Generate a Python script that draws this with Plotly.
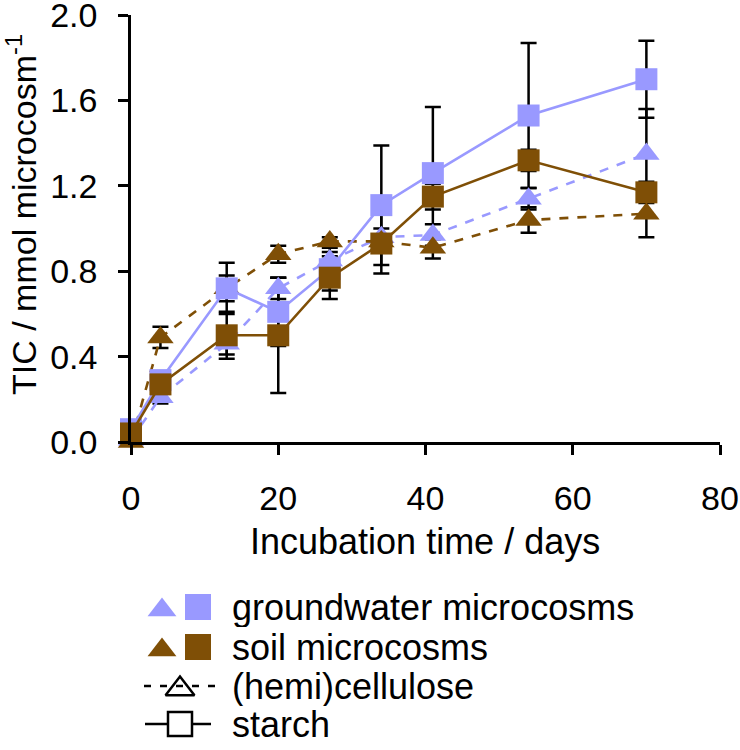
import plotly.graph_objects as go

# ---- data ----
days = [0, 4, 13, 20, 27, 34, 41, 54, 70]

gw_cellulose = [0.01, 0.21, 0.46, 0.72, 0.85, 0.96, 0.97, 1.14, 1.35]
gw_cellulose_err = [0.01, 0.03, 0.05, 0.05, 0.04, 0.04, 0.05, 0.05, 0.21]

soil_cellulose = [0.00, 0.49, 0.72, 0.88, 0.94, 0.94, 0.91, 1.04, 1.07]
soil_cellulose_err = [0.01, 0.05, 0.06, 0.04, 0.02, 0.03, 0.05, 0.06, 0.11]

gw_starch = [0.06, 0.29, 0.72, 0.61, 0.81, 1.11, 1.26, 1.53, 1.70]
gw_starch_err = [0.01, 0.03, 0.12, 0.16, 0.10, 0.28, 0.31, 0.34, 0.18]

soil_starch = [0.04, 0.27, 0.50, 0.50, 0.77, 0.93, 1.15, 1.32, 1.17]
soil_starch_err = [0.01, 0.04, 0.11, 0.27, 0.10, 0.14, 0.06, 0.05, 0.05]

x_ticks = [0, 20, 40, 60, 80]
y_ticks = [0.0, 0.4, 0.8, 1.2, 1.6, 2.0]

legend_labels = ["groundwater microcosms", "soil microcosms", "(hemi)cellulose", "starch"]

# ---- style ----
LAV = "#9999FF"
BRN = "#7F4F06"
FONT = "Liberation Sans, Arial, sans-serif"
W, H = 740, 750

series = [
    (gw_cellulose, gw_cellulose_err, LAV, "dash", "triangle-up", 23),
    (soil_cellulose, soil_cellulose_err, BRN, "dash", "triangle-up", 23),
    (gw_starch, gw_starch_err, LAV, "solid", "square", 22),
    (soil_starch, soil_starch_err, BRN, "solid", "square", 22),
]

fig = go.Figure()

# error bars first (below all markers)
for vals, errs, col, dash, sym, sz in series:
    fig.add_trace(go.Scatter(
        x=days, y=vals, mode="markers",
        marker=dict(size=1, color="rgba(0,0,0,0)"),
        error_y=dict(type="data", array=errs, visible=True, color="black",
                     thickness=2.5, width=8),
        showlegend=False, hoverinfo="skip", cliponaxis=False,
    ))

for vals, errs, col, dash, sym, sz in series:
    fig.add_trace(go.Scatter(
        x=days, y=vals, mode="lines+markers",
        line=dict(color=col, width=2.6, dash=dash),
        marker=dict(symbol=sym, size=sz, color=col, line=dict(width=0)),
        showlegend=False, cliponaxis=False,
    ))

# ---- custom legend on a pixel-mapped axis below the chart ----
LEG_TOP = 560
rows_y = [607, 647, 686, 724]
leg_axes = dict(xaxis="x2", yaxis="y2")
for ry, col in [(rows_y[0], LAV), (rows_y[1], BRN)]:
    fig.add_trace(go.Scatter(
        x=[162], y=[ry + 3], mode="markers", **leg_axes,
        marker=dict(symbol="triangle-up", size=25, color=col, line=dict(width=0)),
        showlegend=False, hoverinfo="skip", cliponaxis=False))
    fig.add_trace(go.Scatter(
        x=[198], y=[ry], mode="markers", **leg_axes,
        marker=dict(symbol="square", size=26, color=col, line=dict(width=0)),
        showlegend=False, hoverinfo="skip", cliponaxis=False))
fig.add_trace(go.Scatter(
    x=[144, 216], y=[rows_y[2], rows_y[2]], mode="lines", **leg_axes,
    line=dict(color="black", width=2.5, dash="7px,9px"),
    showlegend=False, hoverinfo="skip", cliponaxis=False))
fig.add_trace(go.Scatter(
    x=[180], y=[rows_y[2] + 3], mode="markers", **leg_axes,
    marker=dict(symbol="triangle-up-open", size=25, color="black", line=dict(width=2.5)),
    showlegend=False, hoverinfo="skip", cliponaxis=False))
fig.add_trace(go.Scatter(
    x=[145, 211], y=[rows_y[3], rows_y[3]], mode="lines", **leg_axes,
    line=dict(color="black", width=2.5),
    showlegend=False, hoverinfo="skip", cliponaxis=False))
fig.add_trace(go.Scatter(
    x=[180], y=[rows_y[3]], mode="markers", **leg_axes,
    marker=dict(symbol="square", size=24, color="white", line=dict(width=2.5, color="black")),
    showlegend=False, hoverinfo="skip", cliponaxis=False))

annotations = []
for ry, lab in zip(rows_y, legend_labels):
    annotations.append(dict(
        text=lab, x=231 / W, y=1 - ry / H, xref="paper", yref="paper",
        xanchor="left", yanchor="middle", showarrow=False, height=39, borderpad=0,
        font=dict(family=FONT, size=36, color="black")))
annotations.append(dict(
    text="Incubation time / days", x=(131 + 720) / 2 / W, y=1 - 541 / H,
    xref="paper", yref="paper", xanchor="center", yanchor="middle",
    showarrow=False, font=dict(family=FONT, size=36, color="black")))
annotations.append(dict(
    text="TIC / mmol microcosm<sup>-1</sup>", x=22 / W, y=1 - 215 / H,
    xref="paper", yref="paper", xanchor="center", yanchor="middle", textangle=-90,
    showarrow=False, font=dict(family=FONT, size=34, color="black")))

axis_common = dict(showgrid=False, zeroline=False, showline=True, linecolor="black",
                   linewidth=2.5, ticks="outside", ticklen=10, tickwidth=2.5,
                   tickcolor="black", ticklabeloverflow="allow", automargin=False,
                   tickfont=dict(family=FONT, size=34, color="black"))

fig.update_layout(
    template="none",
    width=W, height=H, paper_bgcolor="white", plot_bgcolor="rgba(0,0,0,0)",
    margin=dict(l=0, r=0, t=0, b=0, pad=0),
    showlegend=False,
    xaxis=dict(domain=[131 / W, 720 / W], range=[0, 80], tickvals=x_ticks,
               ticklabelstandoff=14, anchor="y", **axis_common),
    yaxis=dict(domain=[1 - 442 / H, 1 - 15 / H], range=[0, 2.001], tickvals=y_ticks,
               tickformat=".1f", ticklabelstandoff=14, anchor="x", **axis_common),
    xaxis2=dict(domain=[0, 1], range=[0, W], visible=False, anchor="y2", automargin=False),
    yaxis2=dict(domain=[0, 1 - LEG_TOP / H], range=[H, LEG_TOP], visible=False,
                anchor="x2", automargin=False),
    annotations=annotations,
)

# remove the browser's default 8px page margin so the figure sits at (0, 0)
fig.write_html("out.html", config={"displayModeBar": False},
               post_script="document.body.style.margin='0';")
